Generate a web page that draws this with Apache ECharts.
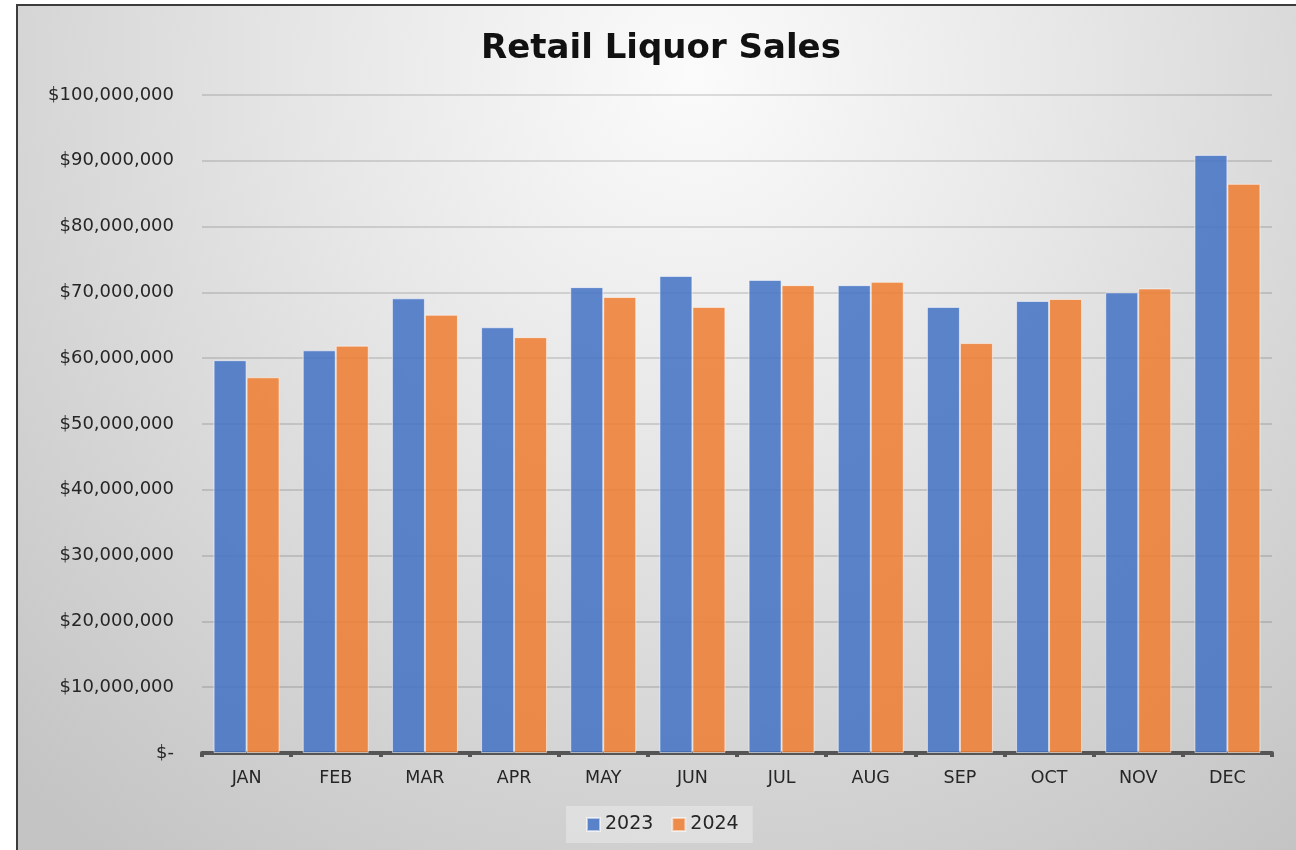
<!DOCTYPE html>
<html>
<head>
<meta charset="utf-8">
<script src="https://cdn.jsdelivr.net/npm/echarts@6/dist/echarts.min.js"></script>
<style>
  html, body { margin: 0; padding: 0; background: #ffffff; width: 1296px; height: 850px; overflow: hidden; }
  #frame { position: absolute; left: 16px; top: 4px; width: 1300px; height: 850px;
           border-left: 2px solid #3c3c3c; border-top: 2px solid #3c3c3c; box-sizing: border-box; }
  #chart { width: 100%; height: 100%; }
</style>
</head>
<body>
<div id="frame"><div id="chart"></div></div>
<script>
// Monthly retail liquor sales, two years side by side
const months = ['JAN', 'FEB', 'MAR', 'APR', 'MAY', 'JUN', 'JUL', 'AUG', 'SEP', 'OCT', 'NOV', 'DEC'];
const sales2023 = [59700000, 61200000, 69100000, 64700000, 70800000, 72500000, 71900000, 71100000, 67800000, 68700000, 70000000, 90900000];
const sales2024 = [57100000, 61900000, 66600000, 63200000, 69300000, 67800000, 71100000, 71600000, 62300000, 69000000, 70600000, 86500000];
const yMin = 0, yMax = 100000000, yStep = 10000000;

const fontFamily = '"DejaVu Sans", Verdana, sans-serif';

const chart = echarts.init(document.getElementById('chart'), null, { renderer: 'canvas' });

function money(v) {
  if (v === 0) return '$-';
  return '$' + v.toLocaleString('en-US');
}

chart.setOption({
  backgroundColor: {
    type: 'radial', x: 0.52, y: 0.08, r: 1.15,
    colorStops: [
      { offset: 0, color: '#fbfbfb' },
      { offset: 0.4, color: '#e6e6e6' },
      { offset: 1, color: '#c4c4c4' }
    ]
  },
  animation: false,
  title: {
    text: 'Retail Liquor Sales',
    left: 638, top: 21, textAlign: 'center',
    textStyle: { fontFamily, fontWeight: 'bold', fontSize: 34, color: '#111111' }
  },
  legend: {
    bottom: 11, left: 548,
    icon: 'rect',
    itemWidth: 13, itemHeight: 13, itemGap: 18,
    padding: [9, 14, 9, 20],
    backgroundColor: 'rgba(255,255,255,0.3)',
    textStyle: { fontFamily, fontSize: 19, color: '#262626' },
    data: ['2023', '2024']
  },
  grid: { left: 184, top: 89, width: 1070, height: 658, containLabel: false },
  xAxis: {
    type: 'category',
    data: months,
    axisLine: { lineStyle: { color: '#555555', width: 4 } },
    axisTick: { show: true, length: 4, lineStyle: { color: '#555555', width: 4 } },
    axisLabel: { fontFamily, fontSize: 17.5, color: '#262626', margin: 16 }
  },
  yAxis: {
    type: 'value',
    min: yMin, max: yMax, interval: yStep,
    axisLine: { show: false },
    axisTick: { show: false },
    splitLine: { lineStyle: { color: 'rgba(0,0,0,0.12)', width: 2 } },
    axisLabel: { fontFamily, fontSize: 18, color: '#262626', margin: 28, formatter: money }
  },
  series: [
    {
      name: '2023', type: 'bar', data: sales2023,
      barGap: '0%', barCategoryGap: '26%',
      itemStyle: { color: 'rgba(68,114,196,0.86)', borderColor: 'rgba(255,255,255,0.55)', borderWidth: 1 }
    },
    {
      name: '2024', type: 'bar', data: sales2024,
      itemStyle: { color: 'rgba(237,125,49,0.86)', borderColor: 'rgba(255,255,255,0.55)', borderWidth: 1 }
    }
  ]
});
</script>
</body>
</html>
